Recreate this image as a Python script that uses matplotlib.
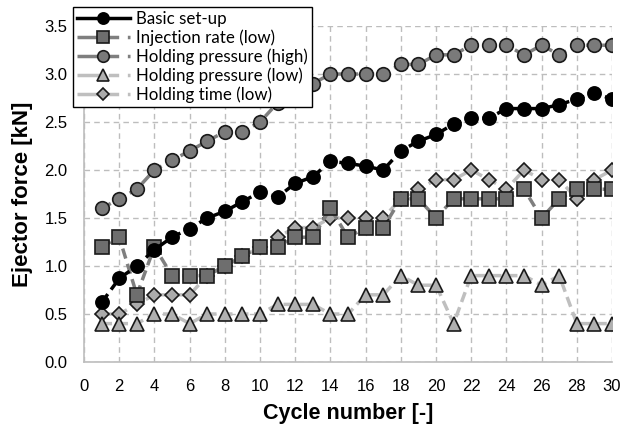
import matplotlib.pyplot as plt
from matplotlib.lines import Line2D

plt.rcParams['font.family'] = ['Liberation Sans', 'DejaVu Sans']

# Data
cycles = list(range(1, 31))
basic = [0.62, 0.87, 1.00, 1.17, 1.30, 1.39, 1.50, 1.57, 1.67, 1.77,
         1.72, 1.86, 1.93, 2.09, 2.07, 2.04, 2.00, 2.20, 2.30, 2.37,
         2.48, 2.54, 2.54, 2.64, 2.64, 2.64, 2.68, 2.74, 2.80, 2.74]
inj_low = [1.2, 1.3, 0.7, 1.2, 0.9, 0.9, 0.9, 1.0, 1.1, 1.2,
           1.2, 1.3, 1.3, 1.6, 1.3, 1.4, 1.4, 1.7, 1.7, 1.5,
           1.7, 1.7, 1.7, 1.7, 1.8, 1.5, 1.7, 1.8, 1.8, 1.8]
hp_high = [1.6, 1.7, 1.8, 2.0, 2.1, 2.2, 2.3, 2.4, 2.4, 2.5,
           2.7, 2.8, 2.9, 3.0, 3.0, 3.0, 3.0, 3.1, 3.1, 3.2,
           3.2, 3.3, 3.3, 3.3, 3.2, 3.3, 3.2, 3.3, 3.3, 3.3]
hp_low = [0.4, 0.4, 0.4, 0.5, 0.5, 0.4, 0.5, 0.5, 0.5, 0.5,
          0.6, 0.6, 0.6, 0.5, 0.5, 0.7, 0.7, 0.9, 0.8, 0.8,
          0.4, 0.9, 0.9, 0.9, 0.9, 0.8, 0.9, 0.4, 0.4, 0.4]
ht_low = [0.5, 0.5, 0.6, 0.7, 0.7, 0.7, 0.9, 1.0, 1.1, 1.2,
          1.3, 1.4, 1.4, 1.5, 1.5, 1.5, 1.5, 1.7, 1.8, 1.9,
          1.9, 2.0, 1.9, 1.8, 2.0, 1.9, 1.9, 1.7, 1.9, 2.0]
labels = ['Basic set-up', 'Injection rate (low)', 'Holding pressure (high)',
          'Holding pressure (low)', 'Holding time (low)']

# series styles: line colour, marker, marker size, marker face, marker edge
styles = [
    ('black', 'o', 9.5, 'black', 'black'),
    ('#7f7f7f', 's', 9.5, '#6e6e6e', '#1a1a1a'),
    ('#7f7f7f', 'o', 9.8, '#7a7a7a', '#1a1a1a'),
    ('#bfbfbf', '^', 9.5, '#b0b0b0', '#1a1a1a'),
    ('#bfbfbf', 'D', 7.0, '#ababab', '#1a1a1a'),
]
series = [basic, inj_low, hp_high, hp_low, ht_low]

fig = plt.figure(figsize=(6.28, 4.28), dpi=100)
ax = fig.add_axes([0.1338, 0.1542, 0.8408, 0.785])

handles = []
for i, (vals, st) in enumerate(zip(series, styles)):
    col, mk, ms, fc, ec = st
    ax.plot(cycles, vals, color=col, linestyle=(0, (3, 1.6)), lw=2.5,
            marker=mk, ms=ms, mfc=fc, mec=ec, mew=1.2, zorder=5 - i * 0.5)
    # legend shows dash - marker - dash
    ls = '-' if i == 0 else (0, (6.5, 2.5, 3, 2.5, 7, 10))
    handles.append(Line2D([], [], color=col, lw=2.5, linestyle=ls,
                          marker=mk, ms=ms * 0.85, mfc=fc, mec=ec, mew=1.2))

ax.set_xlim(0, 30)
ax.set_ylim(0, 3.5)
ax.set_xticks(range(0, 31, 2))
ax.set_yticks([i * 0.5 for i in range(8)])
ax.set_yticklabels([f'{i * 0.5:.1f}' for i in range(8)])
ax.tick_params(length=0, labelsize=12, pad=12)
ax.grid(True, color='#bdbdbd', linestyle=(0, (4, 3)), lw=1)
ax.set_axisbelow(True)
for s in ['top', 'right']:
    ax.spines[s].set_visible(False)
for s in ['left', 'bottom']:
    ax.spines[s].set_color('#bdbdbd')
    ax.spines[s].set_linewidth(1.2)

ax.set_xlabel('Cycle number [-]', fontsize=15.5, fontweight='bold', labelpad=7)
ax.set_ylabel('Ejector force [kN]', fontsize=16, fontweight='bold', labelpad=8)

leg = fig.legend(handles, labels, loc='upper left', bbox_to_anchor=(0.1162, 0.9836),
                 borderaxespad=0, prop={'family': 'Lato', 'size': 12.2},
                 frameon=True, fancybox=False, handlelength=3.1, labelspacing=0.14,
                 borderpad=0.25, handletextpad=0.35, framealpha=1)
leg.get_frame().set_edgecolor('black')
leg.get_frame().set_linewidth(1)

fig.savefig('out.png', dpi=100)
